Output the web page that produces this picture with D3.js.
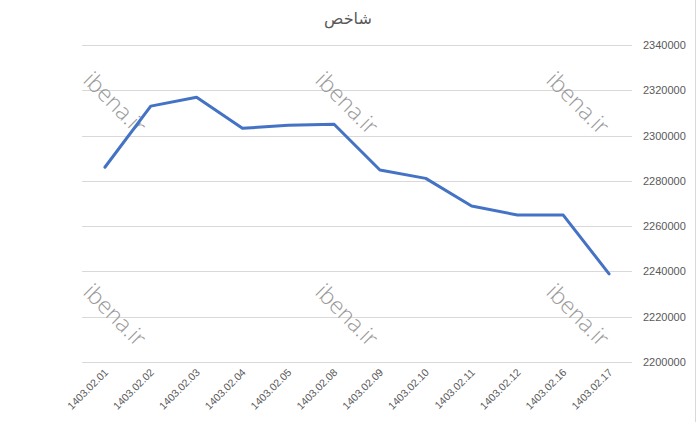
<!DOCTYPE html>
<html><head><meta charset="utf-8">
<script src="https://cdn.jsdelivr.net/npm/d3@7"></script>
<style>body{margin:0;background:#fff;overflow:hidden}</style>
</head><body>
<svg id="c" width="697" height="422"></svg>
<script>
const title = "شاخص";
const categories = ["1403.02.01","1403.02.02","1403.02.03","1403.02.04","1403.02.05","1403.02.08","1403.02.09","1403.02.10","1403.02.11","1403.02.12","1403.02.16","1403.02.17"];
const values = [2286000,2313000,2316900,2303200,2304600,2305000,2284800,2281100,2268900,2264900,2264900,2238900];
const yTicks = [2200000,2220000,2240000,2260000,2280000,2300000,2320000,2340000];
const watermark = "ibena.ir";

(function(){
const svg = d3.select("#c");
const mLeft = 82, mRight = 632, mTop = 45, mBottom = 362;
const x = d3.scaleBand().domain(categories).range([mLeft, mRight]);
const y = d3.scaleLinear().domain([2200000, 2340000]).range([mBottom, mTop]);

// edge line (sheet border)
svg.append("line").attr("x1",695.5).attr("x2",695.5).attr("y1",0).attr("y2",422).attr("stroke","#d9d9d9");

// gridlines
svg.append("g").selectAll("line").data(yTicks).join("line")
  .attr("x1", mLeft).attr("x2", mRight)
  .attr("y1", d => Math.round(y(d)) + 0.5).attr("y2", d => Math.round(y(d)) + 0.5)
  .attr("stroke", "#d9d9d9").attr("stroke-width", 1);

// y axis on right
const yAxis = svg.append("g").attr("transform", `translate(${mRight},0)`)
  .call(d3.axisRight(y).tickValues(yTicks).tickFormat(d3.format("d")).tickSize(0).tickPadding(11));
yAxis.select(".domain").remove();
yAxis.selectAll("text").attr("fill","#595959").attr("font-size","11px").attr("font-family","Liberation Sans, Arial, sans-serif");

// x axis labels
const xAxis = svg.append("g").attr("transform", `translate(0,${mBottom})`)
  .call(d3.axisBottom(x).tickSize(0).tickPadding(0));
xAxis.select(".domain").remove();
xAxis.selectAll("text")
  .attr("fill","#595959").attr("font-size","10.5px").attr("font-family","Liberation Sans, Arial, sans-serif")
  .attr("text-anchor","end").attr("dy", null).attr("y", 0)
  .attr("transform","translate(4,11) rotate(-45)");

// watermarks
const wm = [[347,103],[115,103],[578,103],[115,315],[347,315],[578,315]];
svg.append("g").selectAll("text").data(wm).join("text")
  .attr("transform", d => `translate(${d[0]},${d[1]}) rotate(45)`)
  .attr("text-anchor","middle").attr("dy","0.35em")
  .attr("font-size","23px").attr("font-family","Open Sans, Liberation Sans, sans-serif").attr("font-weight",300)
  .attr("fill","#9a9a9a").text(watermark);

// line
const line = d3.line().x((d,i) => x(categories[i]) + x.bandwidth()/2).y(d => y(d));
svg.append("path").datum(values).attr("d", line)
  .attr("fill","none").attr("stroke","#4472C4").attr("stroke-width",3)
  .attr("stroke-linejoin","round").attr("stroke-linecap","round");

// title
svg.append("text").attr("x", 348).attr("y", 24).attr("text-anchor","middle")
  .attr("font-size","16px").attr("font-family","DejaVu Sans, sans-serif").attr("fill","#595959").text(title);
})();
</script>
</body></html>
